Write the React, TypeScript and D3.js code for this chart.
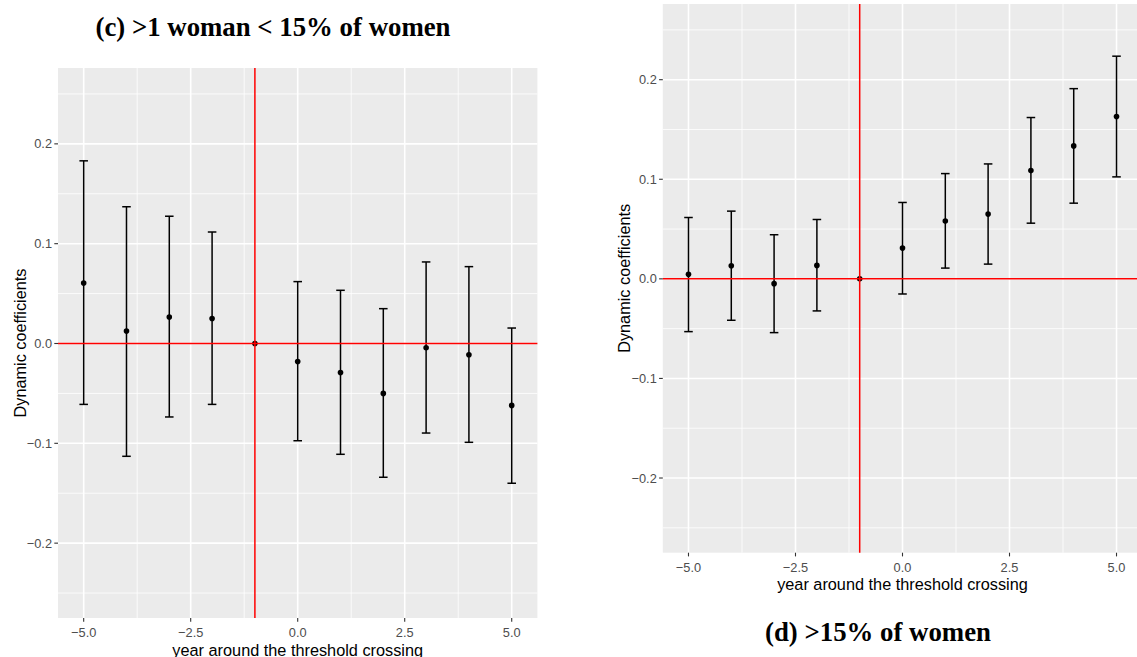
import React from "react";
import * as d3 from "d3";

const years = [-5, -4, -3, -2, -1, 0, 1, 2, 3, 4, 5];

// Panel (c): >1 woman < 15% of women
const cEst = [0.0606, 0.0125, 0.0266, 0.025, 0, -0.018, -0.029, -0.05, -0.0042, -0.0112, -0.062];
const cLow = [-0.061, -0.113, -0.0736, -0.061, 0, -0.0974, -0.111, -0.134, -0.0897, -0.099, -0.14];
const cHigh = [0.183, 0.137, 0.1275, 0.1117, 0, 0.062, 0.0533, 0.0349, 0.0817, 0.077, 0.0155];

// Panel (d): >15% of women
const dEst = [0.0045, 0.0132, -0.0048, 0.0135, 0, 0.0309, 0.058, 0.065, 0.1087, 0.1335, 0.163];
const dLow = [-0.053, -0.0416, -0.054, -0.0322, 0, -0.0152, 0.0108, 0.0148, 0.0559, 0.076, 0.1024];
const dHigh = [0.0616, 0.068, 0.0443, 0.0596, 0, 0.0767, 0.1057, 0.1154, 0.162, 0.191, 0.2236];

const xMajor = [-5, -2.5, 0, 2.5, 5];
const xMinor = [-3.75, -1.25, 1.25, 3.75];
const yMajor = [-0.2, -0.1, 0, 0.1, 0.2];
const yMinor = [-0.25, -0.15, -0.05, 0.05, 0.15, 0.25];

const xTitle = "year around the threshold crossing";
const yTitle = "Dynamic coefficients";

const sans = "'Liberation Sans', Arial, sans-serif";
const serif = "'Liberation Serif', 'Times New Roman', serif";

type PanelProps = {
  left: number;
  right: number;
  top: number;
  bottom: number;
  est: number[];
  low: number[];
  high: number[];
};

function Panel({ left, right, top, bottom, est, low, high }: PanelProps) {
  const x = d3.scaleLinear().domain([-5.6, 5.6]).range([left, right]);
  const y = d3.scaleLinear().domain([-0.275, 0.276]).range([bottom, top]);
  const fmtX = d3.format(".1f");
  const fmtY = (v: number) => (Math.abs(v) < 1e-9 ? "0.0" : d3.format(".1f")(v));
  const cap = x(0.1) - x(0);
  const midX = (left + right) / 2;
  const midY = (top + bottom) / 2;
  return (
    <g>
      <rect x={left} y={top} width={right - left} height={bottom - top} fill="#EBEBEB" />
      {yMinor.map((v) => (
        <line key={"ym" + v} x1={left} x2={right} y1={y(v)} y2={y(v)} stroke="#fff" strokeWidth={0.8} />
      ))}
      {xMinor.map((v) => (
        <line key={"xm" + v} x1={x(v)} x2={x(v)} y1={top} y2={bottom} stroke="#fff" strokeWidth={0.8} />
      ))}
      {yMajor.map((v) => (
        <line key={"yM" + v} x1={left} x2={right} y1={y(v)} y2={y(v)} stroke="#fff" strokeWidth={1.6} />
      ))}
      {xMajor.map((v) => (
        <line key={"xM" + v} x1={x(v)} x2={x(v)} y1={top} y2={bottom} stroke="#fff" strokeWidth={1.6} />
      ))}
      {years.map((yr, i) =>
        high[i] !== low[i] ? (
          <g key={"eb" + yr} stroke="#000" strokeWidth={1.5}>
            <line x1={x(yr)} x2={x(yr)} y1={y(low[i])} y2={y(high[i])} />
            <line x1={x(yr) - cap} x2={x(yr) + cap} y1={y(low[i])} y2={y(low[i])} />
            <line x1={x(yr) - cap} x2={x(yr) + cap} y1={y(high[i])} y2={y(high[i])} />
          </g>
        ) : null
      )}
      {years.map((yr, i) => (
        <circle key={"pt" + yr} cx={x(yr)} cy={y(est[i])} r={2.8} fill="#000" />
      ))}
      <line x1={left} x2={right} y1={y(0)} y2={y(0)} stroke="#FF0000" strokeWidth={1.5} />
      <line x1={x(-1)} x2={x(-1)} y1={top} y2={bottom} stroke="#FF0000" strokeWidth={1.5} />
      {xMajor.map((v) => (
        <g key={"xt" + v}>
          <line x1={x(v)} x2={x(v)} y1={bottom} y2={bottom + 3.7} stroke="#333" strokeWidth={1.1} />
          <text x={x(v)} y={bottom + 19} textAnchor="middle" fontFamily={sans} fontSize={12.8} fill="#4D4D4D">
            {fmtX(v)}
          </text>
        </g>
      ))}
      {yMajor.map((v) => (
        <g key={"yt" + v}>
          <line x1={left - 3.7} x2={left} y1={y(v)} y2={y(v)} stroke="#333" strokeWidth={1.1} />
          <text x={left - 6} y={y(v) + 4.6} textAnchor="end" fontFamily={sans} fontSize={12.8} fill="#4D4D4D">
            {fmtY(v)}
          </text>
        </g>
      ))}
      <text x={midX} y={bottom + 37.5} textAnchor="middle" fontFamily={sans} fontSize={16.3} fill="#000">
        {xTitle}
      </text>
      <text
        transform={`translate(${left - 32.5},${midY}) rotate(-90)`}
        textAnchor="middle"
        fontFamily={sans}
        fontSize={16.3}
        fill="#000"
      >
        {yTitle}
      </text>
    </g>
  );
}

export default function App() {
  return (
    <svg
      width={1137}
      height={657}
      style={{ position: "fixed", left: 0, top: 0, background: "#fff" }}
    >
      <rect x={0} y={0} width={1137} height={657} fill="#fff" />
      <text x={273} y={35.5} textAnchor="middle" fontFamily={serif} fontWeight="bold" fontSize={26.8} fill="#000">
        (c) &gt;1 woman &lt; 15% of women
      </text>
      <Panel left={58} right={537.4} top={68} bottom={618} est={cEst} low={cLow} high={cHigh} />
      <Panel left={662.8} right={1142.2} top={4} bottom={552.7} est={dEst} low={dLow} high={dHigh} />
      <text x={878} y={641} textAnchor="middle" fontFamily={serif} fontWeight="bold" fontSize={26.8} fill="#000">
        (d) &gt;15% of women
      </text>
    </svg>
  );
}
